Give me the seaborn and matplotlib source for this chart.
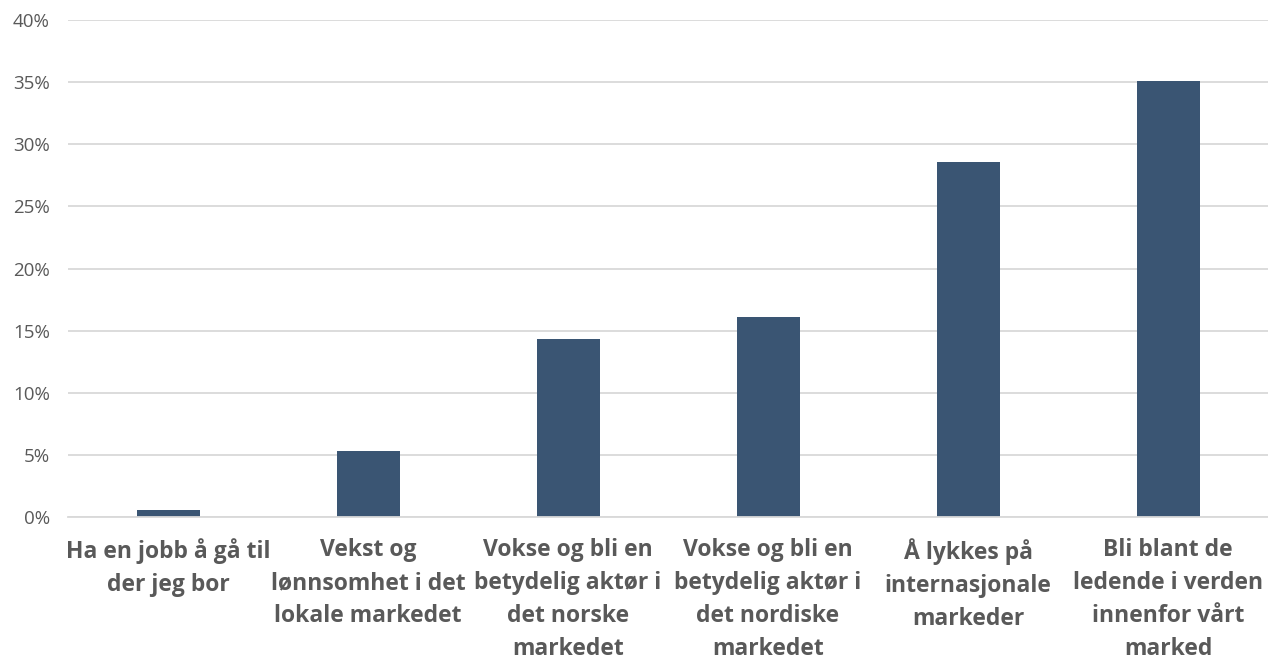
import pandas as pd
import seaborn as sns
import matplotlib.pyplot as plt
from matplotlib.ticker import PercentFormatter

# Data
categories = [
    "Ha en jobb å gå til\nder jeg bor",
    "Vekst og\nlønnsomhet i det\nlokale markedet",
    "Vokse og bli en\nbetydelig aktør i\ndet norske\nmarkedet",
    "Vokse og bli en\nbetydelig aktør i\ndet nordiske\nmarkedet",
    "Å lykkes på\ninternasjonale\nmarkeder",
    "Bli blant de\nledende i verden\ninnenfor vårt\nmarked",
]
shares = [0.6, 5.3, 14.3, 16.1, 28.6, 35.1]

BAR_COLOR = "#3A5573"
GRID_COLOR = "#D9D9D9"
TEXT_COLOR = "#595959"


def draw(df):
    sns.set_theme(style="white")
    plt.rcParams["font.family"] = ["Open Sans", "DejaVu Sans"]

    fig = plt.figure(figsize=(12.68, 6.61), dpi=100)
    ax = fig.add_axes([68 / 1268, 1 - 517 / 661, 1200 / 1268, (517 - 20) / 661])

    sns.barplot(data=df, x="Kategori", y="Andel", ax=ax, color=BAR_COLOR,
                width=0.315, saturation=1, edgecolor="none")

    ax.set_ylim(0, 40)
    ax.set_xlim(-0.5, len(categories) - 0.5)
    ax.set_yticks(range(0, 41, 5))
    ax.yaxis.set_major_formatter(PercentFormatter(decimals=0))
    ax.set_xlabel("")
    ax.set_ylabel("")

    ax.grid(axis="y", color=GRID_COLOR, linewidth=1.3)
    ax.set_axisbelow(True)
    for side in ["top", "right", "left"]:
        ax.spines[side].set_visible(False)
    ax.spines["bottom"].set_color(GRID_COLOR)
    ax.spines["bottom"].set_linewidth(1.3)

    ax.tick_params(axis="y", length=0, pad=13, labelsize=13.5, labelcolor=TEXT_COLOR)
    ax.tick_params(axis="x", length=0, pad=15, labelcolor=TEXT_COLOR)
    for lbl in ax.get_xticklabels():
        lbl.set_fontsize(16.5)
        lbl.set_fontweight("bold")
        lbl.set_linespacing(1.51)

    fig.savefig("out.png", dpi=100)


if __name__ == "__main__":
    data = pd.DataFrame({"Kategori": categories, "Andel": shares})
    draw(data)
